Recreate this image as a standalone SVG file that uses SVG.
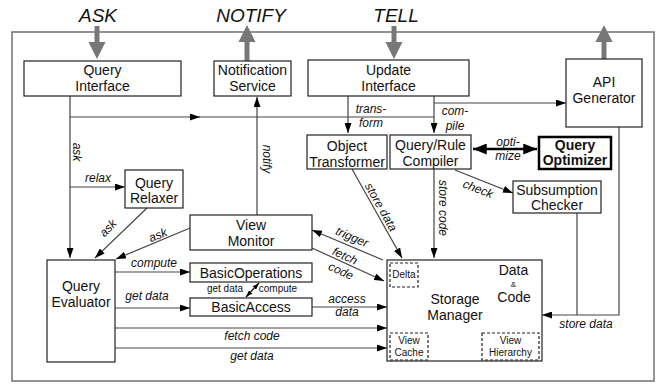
<svg xmlns="http://www.w3.org/2000/svg" width="659" height="384" viewBox="0 0 659 384">
<style>
text{font-family:"Liberation Sans",Arial,sans-serif;fill:#111;}
.b rect{fill:#fff;stroke:#222;stroke-width:1.2;}
.t{font-size:14px;text-anchor:middle;}
.bold{font-weight:bold;}
.l{font-size:12px;font-style:italic;text-anchor:middle;}
.s{font-size:10px;text-anchor:middle;}
.big{font-size:19px;font-style:italic;text-anchor:middle;}
.c line,.c path{stroke:#444;stroke-width:1.2;fill:none;}
.c .a{marker-end:url(#ar);}
.g{stroke:#777;stroke-width:5;fill:none;}
.gh{fill:#777;}
.d{fill:none;stroke:#333;stroke-width:1;stroke-dasharray:3,2;}
</style>
<defs>
<marker id="ar" viewBox="0 0 10 7" refX="10" refY="3.5" markerWidth="10" markerHeight="7" markerUnits="userSpaceOnUse" orient="auto-start-reverse"><path d="M0,0L10,3.5L0,7z" fill="#000"/></marker>
<marker id="ars" viewBox="0 0 10 7" refX="10" refY="3.5" markerWidth="7" markerHeight="5" markerUnits="userSpaceOnUse" orient="auto-start-reverse"><path d="M0,0L10,3.5L0,7z" fill="#000"/></marker>
<marker id="arb" viewBox="0 0 10 8" refX="10" refY="4" markerWidth="14" markerHeight="11" markerUnits="userSpaceOnUse" orient="auto-start-reverse"><path d="M0,0L10,4L0,8z" fill="#000"/></marker>
</defs>
<rect x="12" y="32" width="642" height="349" fill="none" stroke="#707070" stroke-width="1.5"/>
<text class="big" x="98" y="22">ASK</text>
<text class="big" x="251" y="22">NOTIFY</text>
<text class="big" x="396" y="22">TELL</text>
<g id="big-arrows">
<line class="g" x1="97" y1="26" x2="97" y2="43"/>
<polygon class="gh" points="88.5,42 105.5,42 97,59"/>
<line class="g" x1="394" y1="26" x2="394" y2="43"/>
<polygon class="gh" points="385.5,42 402.5,42 394,59"/>
<line class="g" x1="247" y1="61" x2="247" y2="41"/>
<polygon class="gh" points="238.5,42 255.5,42 247,25"/>
<line class="g" x1="604" y1="59" x2="604" y2="41"/>
<polygon class="gh" points="595.5,42 612.5,42 604,25"/>
</g>
<g class="c" id="connectors">
<line class="a" x1="70" y1="96" x2="70" y2="258"/>
<line class="a" x1="70" y1="117" x2="200" y2="117"/>
<line x1="199" y1="117" x2="434" y2="117"/>
<line class="a" x1="434" y1="96" x2="434" y2="133"/>
<line class="a" x1="434" y1="103" x2="566" y2="103"/>
<line class="a" x1="348" y1="96" x2="348" y2="133"/>
<line class="a" x1="257" y1="215" x2="257" y2="97"/>
<line class="a" x1="70" y1="187" x2="125" y2="187"/>
<line class="a" x1="147" y1="208" x2="95" y2="258"/>
<line class="a" x1="190" y1="228" x2="116" y2="259"/>
<line class="a" x1="352" y1="169" x2="402" y2="258"/>
<line class="a" x1="434" y1="169" x2="434" y2="258"/>
<line class="a" x1="455" y1="170" x2="513" y2="193"/>
<line x1="473" y1="149" x2="537" y2="149" style="stroke:#000;stroke-width:2.5" marker-start="url(#arb)" marker-end="url(#arb)"/>
<line x1="577" y1="213" x2="577" y2="315"/>
<path class="a" d="M619,127V315H542"/>
<line class="a" x1="383" y1="260" x2="312" y2="230"/>
<line class="a" x1="312" y1="248" x2="384" y2="281"/>
<line class="a" x1="115" y1="272" x2="190" y2="272"/>
<line class="a" x1="115" y1="308" x2="190" y2="308"/>
<line class="a" x1="312" y1="307" x2="387" y2="307"/>
<line class="a" x1="115" y1="328" x2="387" y2="328"/>
<line class="a" x1="115" y1="348" x2="387" y2="348"/>
<line x1="246" y1="297" x2="259" y2="283" style="stroke:#000" marker-start="url(#ars)" marker-end="url(#ars)"/>
</g>
<g id="labels">
<text class="l" transform="translate(77,152) rotate(90)" dy="4">ask</text>
<text class="l" x="98" y="182">relax</text>
<text class="l" transform="translate(108,228) rotate(-46)" dy="4">ask</text>
<text class="l" transform="translate(158,235) rotate(-22)" dy="4">ask</text>
<text class="l" transform="translate(267,159) rotate(90)" dy="4">notify</text>
<text class="l" x="371" y="113">trans-</text>
<text class="l" x="371" y="127">form</text>
<text class="l" x="455" y="115">com-</text>
<text class="l" x="455" y="130">pile</text>
<text class="l" x="508" y="146">opti-</text>
<text class="l" x="508" y="160">mize</text>
<text class="l" transform="translate(381,207) rotate(60.7)" dy="4">store data</text>
<text class="l" transform="translate(443,208) rotate(90)" dy="4">store code</text>
<text class="l" transform="translate(478,189) rotate(21.6)" dy="4">check</text>
<text class="l" transform="translate(352,237) rotate(23)" dy="4">trigger</text>
<text class="l" transform="translate(345,256) rotate(24.6)" dy="4">fetch</text>
<text class="l" transform="translate(341,271) rotate(24.6)" dy="4">code</text>
<text class="l" x="154" y="267">compute</text>
<text class="l" x="147" y="300">get data</text>
<text class="l" x="347" y="303">access</text>
<text class="l" x="347" y="316">data</text>
<text class="l" x="252" y="340">fetch code</text>
<text class="l" x="252" y="360">get data</text>
<text class="l" x="586" y="328">store data</text>
<text class="s" x="225" y="292">get data</text>
<text class="s" x="278" y="292">compute</text>
</g>
<g id="query-interface" class="b"><rect x="24" y="61" width="157" height="35"/><text class="t" x="102.5" y="75">Query</text><text class="t" x="102.5" y="91">Interface</text></g>
<g id="notification-service" class="b"><rect x="214" y="61" width="77" height="35"/><text class="t" x="252.5" y="75">Notification</text><text class="t" x="252.5" y="91">Service</text></g>
<g id="update-interface" class="b"><rect x="308" y="60" width="161" height="36"/><text class="t" x="388.5" y="75">Update</text><text class="t" x="388.5" y="91">Interface</text></g>
<g id="api-generator" class="b"><rect x="566" y="59" width="76" height="68"/><text class="t" x="604" y="87">API</text><text class="t" x="604" y="103">Generator</text></g>
<g id="object-transformer" class="b"><rect x="307" y="135" width="80" height="34"/><text class="t" x="347" y="151">Object</text><text class="t" x="347" y="167">Transformer</text></g>
<g id="query-rule-compiler" class="b"><rect x="390" y="135" width="81" height="34"/><text class="t" x="430.5" y="150">Query/Rule</text><text class="t" x="430.5" y="166">Compiler</text></g>
<g id="query-optimizer" class="b"><rect x="539" y="137" width="72" height="32" style="stroke:#000;stroke-width:2.5"/><text class="t bold" x="575" y="150">Query</text><text class="t bold" x="575" y="165">Optimizer</text></g>
<g id="subsumption-checker" class="b"><rect x="513" y="181" width="88" height="32"/><text class="t" x="557" y="195">Subsumption</text><text class="t" x="557" y="210">Checker</text></g>
<g id="query-relaxer" class="b"><rect x="125" y="170" width="58" height="38"/><text class="t" x="154" y="188">Query</text><text class="t" x="154" y="203">Relaxer</text></g>
<g id="view-monitor" class="b"><rect x="190" y="215" width="122" height="35"/><text class="t" x="251" y="230">View</text><text class="t" x="251" y="246">Monitor</text></g>
<g id="query-evaluator" class="b"><rect x="47" y="260" width="68" height="102"/><text class="t" x="81" y="291">Query</text><text class="t" x="81" y="307">Evaluator</text></g>
<g id="basic-operations" class="b"><rect x="190" y="263" width="122" height="19"/><text class="t" x="251" y="278">BasicOperations</text></g>
<g id="basic-access" class="b"><rect x="190" y="298" width="122" height="18"/><text class="t" x="251" y="312">BasicAccess</text></g>
<g id="storage-manager" class="b"><rect x="387" y="260" width="155" height="101"/>
<text class="t" x="455" y="304">Storage</text><text class="t" x="455" y="320">Manager</text>
<text class="t" x="513.5" y="275">Data</text><text style="font-size:8px;text-anchor:middle" x="513.5" y="286.5">&amp;</text><text class="t" x="514" y="302">Code</text>
<rect class="d" x="390" y="263" width="28" height="24"/><text class="s" x="404" y="278">Delta</text>
<rect class="d" x="390" y="333" width="38" height="27"/><text class="s" x="409" y="344">View</text><text class="s" x="409" y="356">Cache</text>
<rect class="d" x="482" y="333" width="57" height="27"/><text class="s" x="510.5" y="344">View</text><text class="s" x="510.5" y="356">Hierarchy</text>
</g>
</svg>
